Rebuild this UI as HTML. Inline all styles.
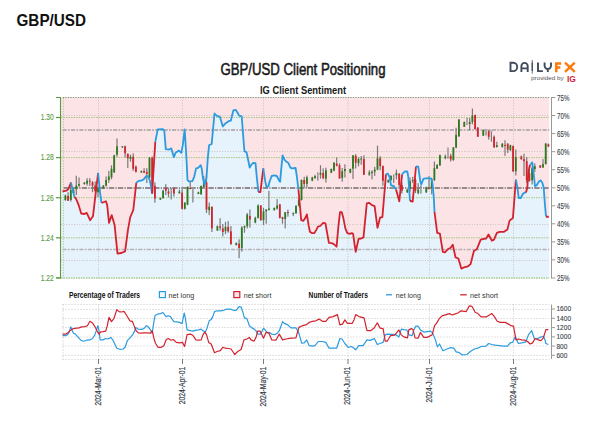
<!DOCTYPE html><html><head><meta charset="utf-8"><style>html,body{margin:0;padding:0;background:#fff;width:602px;height:426px;overflow:hidden}svg{display:block}text{font-family:"Liberation Sans",sans-serif}</style></head><body>
<svg width="602" height="426" viewBox="0 0 602 426">
<text x="16.5" y="26" font-size="16.6" font-weight="bold" fill="#111" textLength="69.5" lengthAdjust="spacingAndGlyphs">GBP/USD</text>
<text x="220.5" y="74.6" font-size="16" fill="#1a1a1a" stroke="#1a1a1a" stroke-width="0.55" textLength="165" lengthAdjust="spacingAndGlyphs">GBP/USD Client Positioning</text>
<text x="260" y="93.5" font-size="10.5" font-weight="bold" fill="#1a1a1a" textLength="86" lengthAdjust="spacingAndGlyphs">IG Client Sentiment</text>
<rect x="61" y="97.5" width="488.20000000000005" height="181.0" fill="#fce4e6"/>
<polygon points="61,191.3 62.5,191.3 66.5,190.7 68.4,189.1 71,182.6 72.9,191 74.5,197 76.1,198.8 78.7,205.2 81.2,213.5 84.5,214 86.7,212.9 90.1,220.2 93,216.2 98.1,172.9 100,192.3 101.5,203 103.9,202 105.9,201.3 107.2,205.2 109,222.9 111.7,215.1 114.6,225.1 117.5,253.6 121.3,253 125.1,251.4 128,229.6 130.2,217.3 133.3,210 136.3,182.7 138.6,180.9 141.1,180.7 143.7,179.4 146.3,176.1 148,176.1 149.5,179.4 150.8,185.2 152.1,193.6 155.3,141.9 157.7,129.4 162.8,129.1 164.3,131 165.8,149.1 169.1,149.5 171.3,148.4 173.9,157.2 175.6,152.8 178.9,150.6 181.3,152.9 182.8,145.2 184.7,129.4 186.5,159.4 187.5,180 188.8,181.3 192.3,181.1 194.2,176.8 196.1,168.4 198.1,167.8 200.7,165.2 201.7,168.4 203,178.8 204.5,184.6 206.5,177.5 207.8,158.1 209.1,145.2 211.7,143.9 214.5,113.5 216.6,115.7 219.9,116.8 222.8,126.5 225.4,123.4 228.6,121.2 230.8,120.7 233.4,110.3 235.6,109.8 237.4,112.5 239.1,115.7 241.7,116.4 243.9,145 244.5,151.5 246.5,152.1 248,159.2 249.7,167.6 251.6,164.4 253.6,162.8 255.5,163.1 256.8,177.3 258.4,192 260.4,192.2 263.3,168.3 265.2,181.2 266.5,187 268.4,186.3 269.7,181.2 271.7,176 274.2,175.4 276.8,176 278.8,179.9 280.1,181.8 281.3,168.3 282.6,155.3 284.6,159.9 286.5,161.8 288.4,163.1 290.4,167.6 291.7,168.3 295.6,168 296.8,176 298.4,189.5 299.9,205.3 301.2,220.2 303.4,220.8 305.1,218.3 306.9,214.4 308.6,225.4 309.9,231.8 311.8,233.1 314.4,233.1 316.3,229.9 318,226.7 320.2,226 323.2,222.8 325.4,223.4 327.3,233.8 328.9,242.8 331.4,243.2 333.5,243.8 336.6,246.7 338.3,227.3 340,212.1 341.8,212.2 343.4,218.3 345.4,228.6 347.3,233.1 349.9,233.8 351.8,233.1 353.1,233.8 354.7,245.4 355.7,251.8 358.6,238.9 361.2,238.5 363.5,237.4 366.8,203.3 369,202.8 371.9,205.1 374.6,206.2 377.5,227.8 380.2,217.3 382.4,217.3 386,174.2 387.9,173.7 389.5,177 391.1,185.4 393.7,186 396,189.5 399.3,201.3 402.1,174.4 404.7,171.5 407.3,171.5 408.3,177 410,201 412.7,201.5 416,166.5 418.3,166.6 420.2,180.8 421.3,184.5 423.4,178.9 425.4,178.3 431.2,178.3 432.5,183.4 433.8,197.6 434.5,212 437.2,232.9 439.9,233.6 442.8,251.8 445,252.3 447.9,249.2 450.6,247.8 452.8,244.7 455.5,257.4 458.4,258.5 461.3,268.6 464,267.4 468,266.3 470.6,264.1 474,250.7 476.9,249.2 480.7,239.6 484,238.9 486.2,238.5 488.5,234.5 491.8,240.7 494,239.6 496.9,232.9 499.6,231.8 504.1,231.8 507.4,229.6 509.6,220.6 511.3,219.3 512.9,218.1 515.9,179.6 517.5,187.8 518.7,198 520.8,198 522.8,194 524.4,192.7 526,192.4 527.3,187.8 528.5,171.4 530,165 532.3,162.4 533.4,171.4 535,186.1 536.7,185.3 539.1,181.2 540.8,180.4 542.4,182.9 543.7,187.8 544.9,204.2 546,216.5 548.7,217 549.2,217 549.2,278.5 61,278.5" fill="#e6f3fc"/>
<line x1="61" x2="549.2" y1="115.5" y2="115.5" stroke="#cac2c2" stroke-width="1" stroke-dasharray="1,1.6"/>
<line x1="61" x2="549.2" y1="151.5" y2="151.5" stroke="#cac2c2" stroke-width="1" stroke-dasharray="1,1.6"/>
<line x1="61" x2="549.2" y1="224.5" y2="224.5" stroke="#cac2c2" stroke-width="1" stroke-dasharray="1,1.6"/>
<line x1="61" x2="549.2" y1="260.5" y2="260.5" stroke="#cac2c2" stroke-width="1" stroke-dasharray="1,1.6"/>
<line x1="61" x2="549.2" y1="117.5" y2="117.5" stroke="#a8c782" stroke-width="1" stroke-dasharray="1.5,1"/>
<line x1="61" x2="549.2" y1="157.6" y2="157.6" stroke="#a8c782" stroke-width="1" stroke-dasharray="1.5,1"/>
<line x1="61" x2="549.2" y1="197.7" y2="197.7" stroke="#a8c782" stroke-width="1" stroke-dasharray="1.5,1"/>
<line x1="61" x2="549.2" y1="237.8" y2="237.8" stroke="#a8c782" stroke-width="1" stroke-dasharray="1.5,1"/>
<line x1="61" x2="549.2" y1="278" y2="278" stroke="#8cbc5c" stroke-width="1" stroke-dasharray="1.5,1"/>
<line x1="62.58" x2="549.2" y1="130" y2="130" stroke="#b8b0b2" stroke-width="1.8" stroke-dasharray="4.1,1.3,1.7,1.32"/>
<line x1="62.58" x2="549.2" y1="249.5" y2="249.5" stroke="#b8b0b2" stroke-width="1.6" stroke-dasharray="4.1,1.3,1.7,1.32"/>
<line x1="63.6" x2="549.2" y1="188" y2="188" stroke="#958b8d" stroke-width="2" stroke-dasharray="5.4,1.25,1.2,1.2"/>
<line x1="98.5" x2="98.5" y1="97.5" y2="278.5" stroke="#cac2c2" stroke-width="1" stroke-dasharray="1,1.6"/>
<line x1="182.5" x2="182.5" y1="97.5" y2="278.5" stroke="#cac2c2" stroke-width="1" stroke-dasharray="1,1.6"/>
<line x1="263.5" x2="263.5" y1="97.5" y2="278.5" stroke="#cac2c2" stroke-width="1" stroke-dasharray="1,1.6"/>
<line x1="348" x2="348" y1="97.5" y2="278.5" stroke="#cac2c2" stroke-width="1" stroke-dasharray="1,1.6"/>
<line x1="429.5" x2="429.5" y1="97.5" y2="278.5" stroke="#cac2c2" stroke-width="1" stroke-dasharray="1,1.6"/>
<line x1="513.5" x2="513.5" y1="97.5" y2="278.5" stroke="#cac2c2" stroke-width="1" stroke-dasharray="1,1.6"/>
<line x1="62.7" x2="549.2" y1="97.5" y2="97.5" stroke="#889c78" stroke-width="1" stroke-dasharray="1.5,1"/>
<line x1="63.3" x2="63.3" y1="98" y2="278.5" stroke="#b4beaa" stroke-width="1" stroke-dasharray="1.3,1.3"/>
<rect x="64.8" y="194.6" width="1.2" height="6.2" fill="#7c7878"/>
<rect x="64.5" y="195.5" width="1.8" height="4.5" fill="#2d7a1e"/>
<rect x="67.5" y="192.2" width="1.2" height="8.6" fill="#7c7878"/>
<rect x="67.2" y="195.9" width="1.8" height="4.9" fill="#d3232d"/>
<rect x="70.2" y="182.3" width="1.2" height="19.3" fill="#7c7878"/>
<rect x="69.9" y="190" width="1.8" height="10" fill="#2d7a1e"/>
<rect x="72.9" y="188.5" width="1.2" height="5.5" fill="#7c7878"/>
<rect x="72.6" y="190.1" width="1.8" height="2.9" fill="#2d7a1e"/>
<rect x="75.7" y="175.7" width="1.2" height="19.3" fill="#7c7878"/>
<rect x="75.4" y="185.6" width="1.8" height="3.7" fill="#2d7a1e"/>
<rect x="78.4" y="177.4" width="1.2" height="9.8" fill="#7c7878"/>
<rect x="78.1" y="184" width="1.8" height="1.6" fill="#2d7a1e"/>
<rect x="83.8" y="182" width="1.2" height="2.7" fill="#7c7878"/>
<rect x="83.5" y="182.7" width="1.8" height="1.3" fill="#2d7a1e"/>
<rect x="86.5" y="178.2" width="1.2" height="7.4" fill="#7c7878"/>
<rect x="86.2" y="180.7" width="1.8" height="2.9" fill="#2d7a1e"/>
<rect x="89.2" y="178.2" width="1.2" height="7.8" fill="#7c7878"/>
<rect x="88.9" y="180.7" width="1.8" height="1" fill="#d3232d"/>
<rect x="91.9" y="181.1" width="1.2" height="11.1" fill="#7c7878"/>
<rect x="91.6" y="182.3" width="1.8" height="3.3" fill="#d3232d"/>
<rect x="94.6" y="181.5" width="1.2" height="9.9" fill="#7c7878"/>
<rect x="94.3" y="185.6" width="1.8" height="5.8" fill="#d3232d"/>
<rect x="97.4" y="186.4" width="1.2" height="10.7" fill="#7c7878"/>
<rect x="97.1" y="187.7" width="1.8" height="4.5" fill="#2d7a1e"/>
<rect x="102.8" y="185" width="1.2" height="4" fill="#7c7878"/>
<rect x="102.5" y="185.7" width="1.8" height="2.8" fill="#2d7a1e"/>
<rect x="105.5" y="176.5" width="1.2" height="9.9" fill="#7c7878"/>
<rect x="105.2" y="180" width="1.8" height="5.7" fill="#2d7a1e"/>
<rect x="108.2" y="170.9" width="1.2" height="12" fill="#7c7878"/>
<rect x="107.9" y="176.5" width="1.8" height="3.5" fill="#2d7a1e"/>
<rect x="110.9" y="165.3" width="1.2" height="14.1" fill="#7c7878"/>
<rect x="110.6" y="168.8" width="1.8" height="8.5" fill="#2d7a1e"/>
<rect x="113.6" y="154.7" width="1.2" height="18.3" fill="#7c7878"/>
<rect x="113.3" y="155.4" width="1.8" height="16.9" fill="#2d7a1e"/>
<rect x="116.4" y="138.5" width="1.2" height="18.3" fill="#7c7878"/>
<rect x="116.1" y="146.3" width="1.8" height="8.4" fill="#2d7a1e"/>
<rect x="121.8" y="146" width="1.2" height="1.8" fill="#7c7878"/>
<rect x="121.5" y="146.3" width="1.8" height="1.1" fill="#2d7a1e"/>
<rect x="124.5" y="145.6" width="1.2" height="11.9" fill="#7c7878"/>
<rect x="124.2" y="146.3" width="1.8" height="7" fill="#d3232d"/>
<rect x="127.2" y="153.3" width="1.2" height="14.8" fill="#7c7878"/>
<rect x="126.9" y="154" width="1.8" height="4.2" fill="#d3232d"/>
<rect x="129.9" y="154.7" width="1.2" height="7.1" fill="#7c7878"/>
<rect x="129.6" y="156.8" width="1.8" height="2.2" fill="#2d7a1e"/>
<rect x="132.6" y="153.3" width="1.2" height="17.6" fill="#7c7878"/>
<rect x="132.3" y="156.8" width="1.8" height="12" fill="#d3232d"/>
<rect x="135.3" y="165.5" width="1.2" height="7" fill="#7c7878"/>
<rect x="135" y="166.7" width="1.8" height="5.2" fill="#d3232d"/>
<rect x="140.8" y="170.5" width="1.2" height="2.5" fill="#7c7878"/>
<rect x="140.5" y="171.1" width="1.8" height="1.4" fill="#2d7a1e"/>
<rect x="143.5" y="168.2" width="1.2" height="5.1" fill="#7c7878"/>
<rect x="143.2" y="171" width="1.8" height="1.5" fill="#d3232d"/>
<rect x="146.2" y="168.2" width="1.2" height="14.8" fill="#7c7878"/>
<rect x="145.9" y="171.8" width="1.8" height="2.1" fill="#d3232d"/>
<rect x="148.9" y="157" width="1.2" height="21" fill="#7c7878"/>
<rect x="148.6" y="157.7" width="1.8" height="19.7" fill="#2d7a1e"/>
<rect x="151.6" y="156.5" width="1.2" height="37.1" fill="#7c7878"/>
<rect x="151.3" y="157.7" width="1.8" height="35.2" fill="#d3232d"/>
<rect x="154.3" y="182.3" width="1.2" height="20.4" fill="#7c7878"/>
<rect x="154" y="185.8" width="1.8" height="12.7" fill="#d3232d"/>
<rect x="159.8" y="197.5" width="1.2" height="2.5" fill="#7c7878"/>
<rect x="159.5" y="198.2" width="1.8" height="1.4" fill="#2d7a1e"/>
<rect x="162.5" y="189.7" width="1.2" height="9.1" fill="#7c7878"/>
<rect x="162.2" y="190.7" width="1.8" height="7.3" fill="#2d7a1e"/>
<rect x="165.2" y="184.2" width="1.2" height="10.9" fill="#7c7878"/>
<rect x="164.9" y="187.8" width="1.8" height="2.9" fill="#d3232d"/>
<rect x="167.9" y="188.5" width="1.2" height="8.8" fill="#7c7878"/>
<rect x="167.6" y="191.5" width="1.8" height="2.1" fill="#d3232d"/>
<rect x="170.6" y="187.8" width="1.2" height="11.7" fill="#7c7878"/>
<rect x="170.3" y="190" width="1.8" height="1" fill="#b3acac"/>
<rect x="173.3" y="187.1" width="1.2" height="9.4" fill="#7c7878"/>
<rect x="173" y="188.5" width="1.8" height="5.1" fill="#d3232d"/>
<rect x="178.8" y="189.7" width="1.2" height="3.9" fill="#7c7878"/>
<rect x="178.5" y="191.6" width="1.8" height="1.7" fill="#2d7a1e"/>
<rect x="181.5" y="189.1" width="1.2" height="20.4" fill="#7c7878"/>
<rect x="181.2" y="192.6" width="1.8" height="16.2" fill="#d3232d"/>
<rect x="184.2" y="202.5" width="1.2" height="7" fill="#7c7878"/>
<rect x="183.9" y="202.5" width="1.8" height="6.3" fill="#2d7a1e"/>
<rect x="186.9" y="186.3" width="1.2" height="19" fill="#7c7878"/>
<rect x="186.6" y="187" width="1.8" height="17.6" fill="#2d7a1e"/>
<rect x="189.6" y="182" width="1.2" height="7.1" fill="#7c7878"/>
<rect x="189.3" y="188" width="1.8" height="1.1" fill="#d3232d"/>
<rect x="192.3" y="188.4" width="1.2" height="14.1" fill="#7c7878"/>
<rect x="192" y="188.4" width="1.8" height="1" fill="#b3acac"/>
<rect x="197.8" y="191.6" width="1.2" height="2.6" fill="#7c7878"/>
<rect x="197.5" y="192.3" width="1.8" height="1.7" fill="#2d7a1e"/>
<rect x="200.5" y="185.5" width="1.2" height="9.1" fill="#7c7878"/>
<rect x="200.2" y="186" width="1.8" height="8.4" fill="#2d7a1e"/>
<rect x="203.2" y="176.1" width="1.2" height="11.6" fill="#7c7878"/>
<rect x="202.9" y="182.1" width="1.8" height="4.9" fill="#2d7a1e"/>
<rect x="205.9" y="175" width="1.2" height="38" fill="#7c7878"/>
<rect x="205.6" y="182.4" width="1.8" height="27.1" fill="#d3232d"/>
<rect x="208.6" y="202.5" width="1.2" height="12.6" fill="#7c7878"/>
<rect x="208.3" y="206.7" width="1.8" height="3.5" fill="#2d7a1e"/>
<rect x="211.3" y="206.7" width="1.2" height="25.3" fill="#7c7878"/>
<rect x="211" y="206.7" width="1.8" height="21.7" fill="#d3232d"/>
<rect x="216.8" y="225.5" width="1.2" height="5.5" fill="#7c7878"/>
<rect x="216.5" y="226.2" width="1.8" height="4.3" fill="#2d7a1e"/>
<rect x="219.5" y="218.2" width="1.2" height="12.3" fill="#7c7878"/>
<rect x="219.2" y="226.2" width="1.8" height="1.4" fill="#d3232d"/>
<rect x="222.2" y="224" width="1.2" height="12.4" fill="#7c7878"/>
<rect x="221.9" y="228.4" width="1.8" height="3.6" fill="#d3232d"/>
<rect x="224.9" y="221.8" width="1.2" height="12.4" fill="#7c7878"/>
<rect x="224.6" y="226.9" width="1.8" height="4.4" fill="#2d7a1e"/>
<rect x="227.6" y="221.1" width="1.2" height="11.6" fill="#7c7878"/>
<rect x="227.3" y="226.9" width="1.8" height="4.4" fill="#d3232d"/>
<rect x="230.3" y="226" width="1.2" height="18.4" fill="#7c7878"/>
<rect x="230" y="231.3" width="1.8" height="13.1" fill="#d3232d"/>
<rect x="235.7" y="242.5" width="1.2" height="3" fill="#7c7878"/>
<rect x="235.4" y="242.9" width="1.8" height="2.2" fill="#2d7a1e"/>
<rect x="238.5" y="239.3" width="1.2" height="18.9" fill="#7c7878"/>
<rect x="238.2" y="243.6" width="1.8" height="4.4" fill="#d3232d"/>
<rect x="241.2" y="226.2" width="1.2" height="25.4" fill="#7c7878"/>
<rect x="240.9" y="227.6" width="1.8" height="20.4" fill="#2d7a1e"/>
<rect x="243.9" y="225.5" width="1.2" height="7.2" fill="#7c7878"/>
<rect x="243.6" y="226.2" width="1.8" height="1.4" fill="#2d7a1e"/>
<rect x="246.6" y="213" width="1.2" height="15.4" fill="#7c7878"/>
<rect x="246.3" y="214.5" width="1.8" height="11.7" fill="#2d7a1e"/>
<rect x="249.3" y="209.5" width="1.2" height="18.1" fill="#7c7878"/>
<rect x="249" y="216" width="1.8" height="3.6" fill="#d3232d"/>
<rect x="254.7" y="216.7" width="1.2" height="6.5" fill="#7c7878"/>
<rect x="254.4" y="217.9" width="1.8" height="4.7" fill="#2d7a1e"/>
<rect x="257.5" y="204.4" width="1.2" height="14.1" fill="#7c7878"/>
<rect x="257.2" y="205.5" width="1.8" height="12.4" fill="#2d7a1e"/>
<rect x="260.2" y="205" width="1.2" height="15.8" fill="#7c7878"/>
<rect x="259.9" y="205.5" width="1.8" height="14.7" fill="#d3232d"/>
<rect x="262.9" y="207.9" width="1.2" height="17" fill="#7c7878"/>
<rect x="262.6" y="211.4" width="1.8" height="8.8" fill="#2d7a1e"/>
<rect x="265.6" y="209.1" width="1.2" height="14.6" fill="#7c7878"/>
<rect x="265.3" y="209.6" width="1.8" height="1.8" fill="#2d7a1e"/>
<rect x="268.3" y="190.9" width="1.2" height="19.3" fill="#7c7878"/>
<rect x="268" y="208.5" width="1.8" height="1.7" fill="#2d7a1e"/>
<rect x="273.7" y="207.5" width="1.2" height="3" fill="#7c7878"/>
<rect x="273.4" y="207.9" width="1.8" height="2.3" fill="#2d7a1e"/>
<rect x="276.5" y="199.1" width="1.2" height="10.5" fill="#7c7878"/>
<rect x="276.2" y="205.5" width="1.8" height="3" fill="#2d7a1e"/>
<rect x="279.2" y="203.8" width="1.2" height="14.7" fill="#7c7878"/>
<rect x="278.9" y="204.4" width="1.8" height="13.5" fill="#d3232d"/>
<rect x="281.9" y="216.7" width="1.2" height="7" fill="#7c7878"/>
<rect x="281.6" y="217.3" width="1.8" height="1.7" fill="#d3232d"/>
<rect x="284.6" y="212" width="1.2" height="16.4" fill="#7c7878"/>
<rect x="284.3" y="212.2" width="1.8" height="6.8" fill="#2d7a1e"/>
<rect x="287.3" y="209.6" width="1.2" height="7.1" fill="#7c7878"/>
<rect x="287" y="212" width="1.8" height="1.2" fill="#d3232d"/>
<rect x="292.7" y="212.6" width="1.2" height="3.5" fill="#7c7878"/>
<rect x="292.4" y="212.9" width="1.8" height="1.2" fill="#2d7a1e"/>
<rect x="295.4" y="205" width="1.2" height="8.8" fill="#7c7878"/>
<rect x="295.1" y="206.1" width="1.8" height="7.1" fill="#2d7a1e"/>
<rect x="298.2" y="198" width="1.2" height="8.5" fill="#7c7878"/>
<rect x="297.9" y="200" width="1.8" height="5.8" fill="#2d7a1e"/>
<rect x="300.9" y="179.4" width="1.2" height="21.2" fill="#7c7878"/>
<rect x="300.6" y="180" width="1.8" height="20" fill="#2d7a1e"/>
<rect x="303.6" y="176.8" width="1.2" height="10.9" fill="#7c7878"/>
<rect x="303.3" y="180" width="1.8" height="3.9" fill="#d3232d"/>
<rect x="306.3" y="175.5" width="1.2" height="12.2" fill="#7c7878"/>
<rect x="306" y="177.4" width="1.8" height="6.5" fill="#2d7a1e"/>
<rect x="311.7" y="176.8" width="1.2" height="4.5" fill="#7c7878"/>
<rect x="311.4" y="177.4" width="1.8" height="3.2" fill="#2d7a1e"/>
<rect x="314.4" y="174.8" width="1.2" height="3.9" fill="#7c7878"/>
<rect x="314.1" y="176.1" width="1.8" height="2" fill="#2d7a1e"/>
<rect x="317.2" y="172.3" width="1.2" height="8.3" fill="#7c7878"/>
<rect x="316.9" y="175" width="1.8" height="1" fill="#b3acac"/>
<rect x="319.9" y="165.2" width="1.2" height="13.5" fill="#7c7878"/>
<rect x="319.6" y="172.9" width="1.8" height="1.9" fill="#2d7a1e"/>
<rect x="322.6" y="168.4" width="1.2" height="11" fill="#7c7878"/>
<rect x="322.3" y="172.9" width="1.8" height="5.2" fill="#d3232d"/>
<rect x="325.3" y="167.7" width="1.2" height="14.9" fill="#7c7878"/>
<rect x="325" y="170.3" width="1.8" height="8.4" fill="#2d7a1e"/>
<rect x="330.7" y="168.5" width="1.2" height="4.7" fill="#7c7878"/>
<rect x="330.4" y="169" width="1.8" height="3.7" fill="#2d7a1e"/>
<rect x="333.4" y="162.2" width="1.2" height="9" fill="#7c7878"/>
<rect x="333.1" y="162.7" width="1.8" height="7.9" fill="#2d7a1e"/>
<rect x="336.1" y="157.4" width="1.2" height="9" fill="#7c7878"/>
<rect x="335.8" y="163.7" width="1.8" height="2.2" fill="#d3232d"/>
<rect x="338.9" y="163.2" width="1.2" height="15.3" fill="#7c7878"/>
<rect x="338.6" y="165.3" width="1.8" height="13.2" fill="#d3232d"/>
<rect x="341.6" y="168" width="1.2" height="13.7" fill="#7c7878"/>
<rect x="341.3" y="171.1" width="1.8" height="6.9" fill="#2d7a1e"/>
<rect x="344.3" y="164.3" width="1.2" height="13.2" fill="#7c7878"/>
<rect x="344" y="169" width="1.8" height="2.1" fill="#2d7a1e"/>
<rect x="349.7" y="168.5" width="1.2" height="4.7" fill="#7c7878"/>
<rect x="349.4" y="169" width="1.8" height="3.7" fill="#2d7a1e"/>
<rect x="352.4" y="155.3" width="1.2" height="23.6" fill="#7c7878"/>
<rect x="352.1" y="155.3" width="1.8" height="13.4" fill="#2d7a1e"/>
<rect x="355.1" y="154.2" width="1.2" height="14.3" fill="#7c7878"/>
<rect x="354.8" y="155.8" width="1.8" height="6.9" fill="#d3232d"/>
<rect x="357.9" y="157.4" width="1.2" height="9" fill="#7c7878"/>
<rect x="357.6" y="159" width="1.8" height="4.2" fill="#2d7a1e"/>
<rect x="360.6" y="156" width="1.2" height="8.8" fill="#7c7878"/>
<rect x="360.3" y="158.5" width="1.8" height="1" fill="#2d7a1e"/>
<rect x="363.3" y="155.3" width="1.2" height="19.5" fill="#7c7878"/>
<rect x="363" y="159" width="1.8" height="15.8" fill="#d3232d"/>
<rect x="368.7" y="170.3" width="1.2" height="5.6" fill="#7c7878"/>
<rect x="368.4" y="172.4" width="1.8" height="2.1" fill="#2d7a1e"/>
<rect x="371.4" y="170.3" width="1.2" height="9.1" fill="#7c7878"/>
<rect x="371.1" y="171.7" width="1.8" height="1.4" fill="#2d7a1e"/>
<rect x="374.1" y="166.8" width="1.2" height="9.1" fill="#7c7878"/>
<rect x="373.8" y="169.6" width="1.8" height="2.1" fill="#2d7a1e"/>
<rect x="376.9" y="145.6" width="1.2" height="24.7" fill="#7c7878"/>
<rect x="376.6" y="158.3" width="1.8" height="11.3" fill="#2d7a1e"/>
<rect x="379.6" y="156.2" width="1.2" height="14.1" fill="#7c7878"/>
<rect x="379.3" y="158.3" width="1.8" height="7.8" fill="#d3232d"/>
<rect x="382.3" y="165.4" width="1.2" height="20.4" fill="#7c7878"/>
<rect x="382" y="166.1" width="1.8" height="14.7" fill="#d3232d"/>
<rect x="387.7" y="179.5" width="1.2" height="3.3" fill="#7c7878"/>
<rect x="387.4" y="180.1" width="1.8" height="2.2" fill="#2d7a1e"/>
<rect x="390.4" y="175.2" width="1.2" height="5.6" fill="#7c7878"/>
<rect x="390.1" y="175.9" width="1.8" height="4.2" fill="#2d7a1e"/>
<rect x="393.1" y="174.5" width="1.2" height="8.5" fill="#7c7878"/>
<rect x="392.8" y="177" width="1.8" height="1" fill="#b3acac"/>
<rect x="395.8" y="169.6" width="1.2" height="9.8" fill="#7c7878"/>
<rect x="395.5" y="173.1" width="1.8" height="2.1" fill="#2d7a1e"/>
<rect x="398.6" y="173" width="1.2" height="14.4" fill="#7c7878"/>
<rect x="398.3" y="173.8" width="1.8" height="11.3" fill="#d3232d"/>
<rect x="401.3" y="182.3" width="1.2" height="11.2" fill="#7c7878"/>
<rect x="401" y="185.1" width="1.8" height="5.6" fill="#d3232d"/>
<rect x="406.7" y="188.8" width="1.2" height="4.2" fill="#7c7878"/>
<rect x="406.4" y="189.5" width="1.8" height="2.8" fill="#2d7a1e"/>
<rect x="409.4" y="177.5" width="1.2" height="14.1" fill="#7c7878"/>
<rect x="409.1" y="181.1" width="1.8" height="7.7" fill="#2d7a1e"/>
<rect x="412.1" y="176.8" width="1.2" height="6.4" fill="#7c7878"/>
<rect x="411.8" y="180" width="1.8" height="1" fill="#2d7a1e"/>
<rect x="414.8" y="178.2" width="1.2" height="14.8" fill="#7c7878"/>
<rect x="414.5" y="179.6" width="1.8" height="11.3" fill="#d3232d"/>
<rect x="417.6" y="183.2" width="1.2" height="11.2" fill="#7c7878"/>
<rect x="417.3" y="189.5" width="1.8" height="3.5" fill="#2d7a1e"/>
<rect x="420.3" y="185.3" width="1.2" height="8.4" fill="#7c7878"/>
<rect x="420" y="188" width="1.8" height="1" fill="#b3acac"/>
<rect x="425.7" y="186.7" width="1.2" height="6.3" fill="#7c7878"/>
<rect x="425.4" y="187.4" width="1.8" height="4.9" fill="#2d7a1e"/>
<rect x="428.4" y="176.1" width="1.2" height="13.4" fill="#7c7878"/>
<rect x="428.1" y="187.7" width="1.8" height="1" fill="#d3232d"/>
<rect x="431.1" y="178.2" width="1.2" height="16.2" fill="#7c7878"/>
<rect x="430.8" y="179.6" width="1.8" height="8.5" fill="#2d7a1e"/>
<rect x="433.8" y="161.5" width="1.2" height="19.6" fill="#7c7878"/>
<rect x="433.5" y="168.2" width="1.8" height="11.8" fill="#2d7a1e"/>
<rect x="436.5" y="164" width="1.2" height="5" fill="#7c7878"/>
<rect x="436.2" y="165.1" width="1.8" height="3.5" fill="#2d7a1e"/>
<rect x="439.3" y="154.5" width="1.2" height="11.5" fill="#7c7878"/>
<rect x="439" y="155.2" width="1.8" height="10.1" fill="#2d7a1e"/>
<rect x="444.7" y="154.5" width="1.2" height="4.9" fill="#7c7878"/>
<rect x="444.4" y="156.6" width="1.8" height="1.4" fill="#2d7a1e"/>
<rect x="447.4" y="147.5" width="1.2" height="11.2" fill="#7c7878"/>
<rect x="447.1" y="148.2" width="1.8" height="7.7" fill="#b3acac"/>
<rect x="450.1" y="153.8" width="1.2" height="7.7" fill="#7c7878"/>
<rect x="449.8" y="155.9" width="1.8" height="3.5" fill="#d3232d"/>
<rect x="452.8" y="147" width="1.2" height="13.8" fill="#7c7878"/>
<rect x="452.5" y="147.5" width="1.8" height="12.6" fill="#2d7a1e"/>
<rect x="455.5" y="127.7" width="1.2" height="20.5" fill="#7c7878"/>
<rect x="455.2" y="134.8" width="1.8" height="12.7" fill="#2d7a1e"/>
<rect x="458.3" y="119" width="1.2" height="18" fill="#7c7878"/>
<rect x="458" y="119.5" width="1.8" height="16.7" fill="#2d7a1e"/>
<rect x="463.7" y="121.6" width="1.2" height="5.4" fill="#7c7878"/>
<rect x="463.4" y="122" width="1.8" height="4.8" fill="#2d7a1e"/>
<rect x="466.4" y="117.9" width="1.2" height="7" fill="#7c7878"/>
<rect x="466.1" y="118.5" width="1.8" height="6" fill="#b3acac"/>
<rect x="469.1" y="118" width="1.2" height="12" fill="#7c7878"/>
<rect x="468.8" y="122" width="1.8" height="2" fill="#2d7a1e"/>
<rect x="471.8" y="108.5" width="1.2" height="15.9" fill="#7c7878"/>
<rect x="471.5" y="115.5" width="1.8" height="6.5" fill="#2d7a1e"/>
<rect x="474.5" y="114.5" width="1.2" height="15" fill="#7c7878"/>
<rect x="474.2" y="115" width="1.8" height="14" fill="#d3232d"/>
<rect x="477.2" y="127" width="1.2" height="10" fill="#7c7878"/>
<rect x="476.9" y="127.7" width="1.8" height="9" fill="#d3232d"/>
<rect x="482.7" y="129.5" width="1.2" height="6.5" fill="#7c7878"/>
<rect x="482.4" y="130" width="1.8" height="5.7" fill="#2d7a1e"/>
<rect x="485.4" y="129.6" width="1.2" height="5.8" fill="#7c7878"/>
<rect x="485.1" y="129.7" width="1.8" height="1.3" fill="#b3acac"/>
<rect x="488.1" y="129.7" width="1.2" height="9.9" fill="#7c7878"/>
<rect x="487.8" y="131.2" width="1.8" height="5.6" fill="#d3232d"/>
<rect x="490.8" y="130.5" width="1.2" height="11.2" fill="#7c7878"/>
<rect x="490.5" y="131" width="1.8" height="1" fill="#b3acac"/>
<rect x="493.5" y="135.5" width="1.2" height="12.3" fill="#7c7878"/>
<rect x="493.2" y="136.8" width="1.8" height="10.6" fill="#d3232d"/>
<rect x="496.2" y="141.7" width="1.2" height="5.7" fill="#7c7878"/>
<rect x="495.9" y="145.2" width="1.8" height="1.9" fill="#2d7a1e"/>
<rect x="501.7" y="143" width="1.2" height="4.5" fill="#7c7878"/>
<rect x="501.4" y="143.8" width="1.8" height="3.3" fill="#2d7a1e"/>
<rect x="504.4" y="140.3" width="1.2" height="15.5" fill="#7c7878"/>
<rect x="504.1" y="145" width="1.8" height="1" fill="#d3232d"/>
<rect x="507.1" y="143.1" width="1.2" height="9.9" fill="#7c7878"/>
<rect x="506.8" y="143.8" width="1.8" height="5.7" fill="#d3232d"/>
<rect x="509.8" y="144.7" width="1.2" height="6.3" fill="#7c7878"/>
<rect x="509.5" y="145.2" width="1.8" height="5" fill="#2d7a1e"/>
<rect x="512.5" y="145.5" width="1.2" height="26.5" fill="#7c7878"/>
<rect x="512.2" y="146" width="1.8" height="25.3" fill="#d3232d"/>
<rect x="515.2" y="149.5" width="1.2" height="26" fill="#7c7878"/>
<rect x="514.9" y="157.2" width="1.8" height="14.1" fill="#2d7a1e"/>
<rect x="520.7" y="155.5" width="1.2" height="4.3" fill="#7c7878"/>
<rect x="520.4" y="156.5" width="1.8" height="2.7" fill="#d3232d"/>
<rect x="523.4" y="153.7" width="1.2" height="22.3" fill="#7c7878"/>
<rect x="523.1" y="159.1" width="1.8" height="2.1" fill="#d3232d"/>
<rect x="526.1" y="157" width="1.2" height="26.1" fill="#7c7878"/>
<rect x="525.8" y="161.2" width="1.8" height="19.1" fill="#d3232d"/>
<rect x="528.8" y="166.2" width="1.2" height="15.5" fill="#7c7878"/>
<rect x="528.5" y="173.2" width="1.8" height="7.8" fill="#d3232d"/>
<rect x="531.5" y="166.2" width="1.2" height="18.3" fill="#7c7878"/>
<rect x="531.2" y="168.3" width="1.8" height="12" fill="#2d7a1e"/>
<rect x="534.2" y="163.4" width="1.2" height="8.4" fill="#7c7878"/>
<rect x="533.9" y="166.2" width="1.8" height="2.8" fill="#2d7a1e"/>
<rect x="539.7" y="165" width="1.2" height="3" fill="#7c7878"/>
<rect x="539.4" y="165.5" width="1.8" height="2.1" fill="#d3232d"/>
<rect x="542.4" y="159.1" width="1.2" height="8.5" fill="#7c7878"/>
<rect x="542.1" y="164.1" width="1.8" height="3.5" fill="#2d7a1e"/>
<rect x="545.1" y="143" width="1.2" height="21.5" fill="#7c7878"/>
<rect x="544.8" y="143.6" width="1.8" height="20.5" fill="#2d7a1e"/>
<rect x="547.8" y="143.5" width="1.2" height="3.5" fill="#7c7878"/>
<rect x="547.5" y="144.3" width="1.8" height="2.2" fill="#d3232d"/>
<polyline points="62.5,191.3 66.5,190.7 68.4,189.1 71,182.6" fill="none" stroke="#d3222f" stroke-width="1.8" stroke-linejoin="round"/>
<polyline points="71,182.6 72.9,191 74.5,197" fill="none" stroke="#2b9be0" stroke-width="1.8" stroke-linejoin="round"/>
<polyline points="74.5,197 76.1,198.8 78.7,205.2 81.2,213.5 84.5,214 86.7,212.9 90.1,220.2 93,216.2 98.1,172.9" fill="none" stroke="#d3222f" stroke-width="1.8" stroke-linejoin="round"/>
<polyline points="98.1,172.9 100,192.3 101.5,203" fill="none" stroke="#2b9be0" stroke-width="1.8" stroke-linejoin="round"/>
<polyline points="101.5,203 103.9,202 105.9,201.3 107.2,205.2 109,222.9 111.7,215.1 114.6,225.1 117.5,253.6 121.3,253 125.1,251.4 128,229.6 130.2,217.3 133.3,210 136.3,182.7" fill="none" stroke="#d3222f" stroke-width="1.8" stroke-linejoin="round"/>
<polyline points="136.3,182.7 138.6,180.9 141.1,180.7 143.7,179.4 146.3,176.1 148,176.1 149.5,179.4 150.8,185.2 152.1,193.6" fill="none" stroke="#2b9be0" stroke-width="1.8" stroke-linejoin="round"/>
<polyline points="152.1,193.6 155.3,141.9" fill="none" stroke="#d3222f" stroke-width="1.8" stroke-linejoin="round"/>
<polyline points="155.3,141.9 157.7,129.4 162.8,129.1 164.3,131 165.8,149.1 169.1,149.5 171.3,148.4 173.9,157.2 175.6,152.8 178.9,150.6 181.3,152.9 182.8,145.2 184.7,129.4 186.5,159.4 187.5,180 188.8,181.3 192.3,181.1 194.2,176.8 196.1,168.4 198.1,167.8 200.7,165.2 201.7,168.4 203,178.8 204.5,184.6 206.5,177.5 207.8,158.1 209.1,145.2 211.7,143.9 214.5,113.5 216.6,115.7 219.9,116.8 222.8,126.5 225.4,123.4 228.6,121.2 230.8,120.7 233.4,110.3 235.6,109.8 237.4,112.5 239.1,115.7 241.7,116.4 243.9,145 244.5,151.5 246.5,152.1 248,159.2 249.7,167.6 251.6,164.4 253.6,162.8 255.5,163.1 256.8,177.3 258.4,192" fill="none" stroke="#2b9be0" stroke-width="1.8" stroke-linejoin="round"/>
<polyline points="258.4,192 260.4,192.2 263.3,168.3" fill="none" stroke="#d3222f" stroke-width="1.8" stroke-linejoin="round"/>
<polyline points="263.3,168.3 265.2,181.2 266.5,187 268.4,186.3 269.7,181.2 271.7,176 274.2,175.4 276.8,176 278.8,179.9 280.1,181.8 281.3,168.3 282.6,155.3 284.6,159.9 286.5,161.8 288.4,163.1 290.4,167.6 291.7,168.3 295.6,168 296.8,176 298.4,189.5" fill="none" stroke="#2b9be0" stroke-width="1.8" stroke-linejoin="round"/>
<polyline points="298.4,189.5 299.9,205.3 301.2,220.2 303.4,220.8 305.1,218.3 306.9,214.4 308.6,225.4 309.9,231.8 311.8,233.1 314.4,233.1 316.3,229.9 318,226.7 320.2,226 323.2,222.8 325.4,223.4 327.3,233.8 328.9,242.8 331.4,243.2 333.5,243.8 336.6,246.7 338.3,227.3 340,212.1 341.8,212.2 343.4,218.3 345.4,228.6 347.3,233.1 349.9,233.8 351.8,233.1 353.1,233.8 354.7,245.4 355.7,251.8 358.6,238.9 361.2,238.5 363.5,237.4 366.8,203.3 369,202.8 371.9,205.1 374.6,206.2 377.5,227.8 380.2,217.3 382.4,217.3 386,174.2" fill="none" stroke="#d3222f" stroke-width="1.8" stroke-linejoin="round"/>
<polyline points="386,174.2 387.9,173.7 389.5,177 391.1,185.4 393.7,186 396,189.5" fill="none" stroke="#2b9be0" stroke-width="1.8" stroke-linejoin="round"/>
<polyline points="396,189.5 399.3,201.3 402.1,174.4" fill="none" stroke="#d3222f" stroke-width="1.8" stroke-linejoin="round"/>
<polyline points="402.1,174.4 404.7,171.5 407.3,171.5 408.3,177 410,201" fill="none" stroke="#2b9be0" stroke-width="1.8" stroke-linejoin="round"/>
<polyline points="410,201 412.7,201.5 416,166.5" fill="none" stroke="#d3222f" stroke-width="1.8" stroke-linejoin="round"/>
<polyline points="416,166.5 418.3,166.6 420.2,180.8 421.3,184.5 423.4,178.9 425.4,178.3 431.2,178.3 432.5,183.4 433.8,197.6 434.5,212" fill="none" stroke="#2b9be0" stroke-width="1.8" stroke-linejoin="round"/>
<polyline points="434.5,212 437.2,232.9 439.9,233.6 442.8,251.8 445,252.3 447.9,249.2 450.6,247.8 452.8,244.7 455.5,257.4 458.4,258.5 461.3,268.6 464,267.4 468,266.3 470.6,264.1 474,250.7 476.9,249.2 480.7,239.6 484,238.9 486.2,238.5 488.5,234.5 491.8,240.7 494,239.6 496.9,232.9 499.6,231.8 504.1,231.8 507.4,229.6 509.6,220.6 511.3,219.3 512.9,218.1 515.9,179.6" fill="none" stroke="#d3222f" stroke-width="1.8" stroke-linejoin="round"/>
<polyline points="515.9,179.6 517.5,187.8 518.7,198 520.8,198 522.8,194 524.4,192.7 526,192.4" fill="none" stroke="#2b9be0" stroke-width="1.8" stroke-linejoin="round"/>
<polyline points="526,192.4 527.3,187.8 528.5,171.4 530,165" fill="none" stroke="#d3222f" stroke-width="1.8" stroke-linejoin="round"/>
<polyline points="530,165 532.3,162.4 533.4,171.4 535,186.1 536.7,185.3 539.1,181.2 540.8,180.4 542.4,182.9 543.7,187.8 544.9,204.2 546,216.5" fill="none" stroke="#2b9be0" stroke-width="1.8" stroke-linejoin="round"/>
<polyline points="546,216.5 548.7,217" fill="none" stroke="#d3222f" stroke-width="1.8" stroke-linejoin="round"/>
<path d="M56,97.5H60.5V278H56" fill="none" stroke="#5b9a3c" stroke-width="1.1"/>
<line x1="56" x2="60.5" y1="117.5" y2="117.5" stroke="#5b9a3c" stroke-width="1.2"/>
<text x="40.7" y="120.3" font-size="8.6" fill="#5b9a3c" stroke="#5b9a3c" stroke-width="0.12" textLength="13" lengthAdjust="spacingAndGlyphs">1.30</text>
<line x1="56" x2="60.5" y1="157.6" y2="157.6" stroke="#5b9a3c" stroke-width="1.2"/>
<text x="40.7" y="160.4" font-size="8.6" fill="#5b9a3c" stroke="#5b9a3c" stroke-width="0.12" textLength="13" lengthAdjust="spacingAndGlyphs">1.28</text>
<line x1="56" x2="60.5" y1="197.7" y2="197.7" stroke="#5b9a3c" stroke-width="1.2"/>
<text x="40.7" y="200.5" font-size="8.6" fill="#5b9a3c" stroke="#5b9a3c" stroke-width="0.12" textLength="13" lengthAdjust="spacingAndGlyphs">1.26</text>
<line x1="56" x2="60.5" y1="237.8" y2="237.8" stroke="#5b9a3c" stroke-width="1.2"/>
<text x="40.7" y="240.6" font-size="8.6" fill="#5b9a3c" stroke="#5b9a3c" stroke-width="0.12" textLength="13" lengthAdjust="spacingAndGlyphs">1.24</text>
<line x1="56" x2="60.5" y1="277.9" y2="277.9" stroke="#5b9a3c" stroke-width="1.2"/>
<text x="40.7" y="280.7" font-size="8.6" fill="#5b9a3c" stroke="#5b9a3c" stroke-width="0.12" textLength="13" lengthAdjust="spacingAndGlyphs">1.22</text>
<line x1="551.5" x2="551.5" y1="97" y2="278.5" stroke="#999" stroke-width="1"/>
<line x1="551.5" x2="555.3" y1="278" y2="278" stroke="#999" stroke-width="1"/>
<text x="557" y="281" font-size="8.4" fill="#3a3f4a" stroke="#3a3f4a" stroke-width="0.12" textLength="12.4" lengthAdjust="spacingAndGlyphs">25%</text>
<line x1="551.5" x2="555.3" y1="259.9" y2="259.9" stroke="#999" stroke-width="1"/>
<text x="557" y="262.9" font-size="8.4" fill="#3a3f4a" stroke="#3a3f4a" stroke-width="0.12" textLength="12.4" lengthAdjust="spacingAndGlyphs">30%</text>
<line x1="551.5" x2="555.3" y1="241.9" y2="241.9" stroke="#999" stroke-width="1"/>
<text x="557" y="244.9" font-size="8.4" fill="#3a3f4a" stroke="#3a3f4a" stroke-width="0.12" textLength="12.4" lengthAdjust="spacingAndGlyphs">35%</text>
<line x1="551.5" x2="555.3" y1="223.8" y2="223.8" stroke="#999" stroke-width="1"/>
<text x="557" y="226.8" font-size="8.4" fill="#3a3f4a" stroke="#3a3f4a" stroke-width="0.12" textLength="12.4" lengthAdjust="spacingAndGlyphs">40%</text>
<line x1="551.5" x2="555.3" y1="205.8" y2="205.8" stroke="#999" stroke-width="1"/>
<text x="557" y="208.8" font-size="8.4" fill="#3a3f4a" stroke="#3a3f4a" stroke-width="0.12" textLength="12.4" lengthAdjust="spacingAndGlyphs">45%</text>
<line x1="551.5" x2="555.3" y1="187.8" y2="187.8" stroke="#999" stroke-width="1"/>
<text x="557" y="190.8" font-size="8.4" fill="#3a3f4a" stroke="#3a3f4a" stroke-width="0.12" textLength="12.4" lengthAdjust="spacingAndGlyphs">50%</text>
<line x1="551.5" x2="555.3" y1="169.7" y2="169.7" stroke="#999" stroke-width="1"/>
<text x="557" y="172.7" font-size="8.4" fill="#3a3f4a" stroke="#3a3f4a" stroke-width="0.12" textLength="12.4" lengthAdjust="spacingAndGlyphs">55%</text>
<line x1="551.5" x2="555.3" y1="151.7" y2="151.7" stroke="#999" stroke-width="1"/>
<text x="557" y="154.7" font-size="8.4" fill="#3a3f4a" stroke="#3a3f4a" stroke-width="0.12" textLength="12.4" lengthAdjust="spacingAndGlyphs">60%</text>
<line x1="551.5" x2="555.3" y1="133.6" y2="133.6" stroke="#999" stroke-width="1"/>
<text x="557" y="136.6" font-size="8.4" fill="#3a3f4a" stroke="#3a3f4a" stroke-width="0.12" textLength="12.4" lengthAdjust="spacingAndGlyphs">65%</text>
<line x1="551.5" x2="555.3" y1="115.5" y2="115.5" stroke="#999" stroke-width="1"/>
<text x="557" y="118.5" font-size="8.4" fill="#3a3f4a" stroke="#3a3f4a" stroke-width="0.12" textLength="12.4" lengthAdjust="spacingAndGlyphs">70%</text>
<line x1="551.5" x2="555.3" y1="97.5" y2="97.5" stroke="#999" stroke-width="1"/>
<text x="557" y="100.5" font-size="8.4" fill="#3a3f4a" stroke="#3a3f4a" stroke-width="0.12" textLength="12.4" lengthAdjust="spacingAndGlyphs">75%</text>
<line x1="63.1" x2="63.1" y1="304.5" y2="359" stroke="#b8b8b8" stroke-width="0.8" stroke-dasharray="1,2"/>
<line x1="62.5" x2="549.2" y1="304.5" y2="304.5" stroke="#b8b8b8" stroke-width="0.8" stroke-dasharray="1,2"/>
<line x1="62.5" x2="549.2" y1="309.5" y2="309.5" stroke="#b8b8b8" stroke-width="0.8" stroke-dasharray="1,2"/>
<line x1="62.5" x2="549.2" y1="318.5" y2="318.5" stroke="#b8b8b8" stroke-width="0.8" stroke-dasharray="1,2"/>
<line x1="62.5" x2="549.2" y1="327.5" y2="327.5" stroke="#b8b8b8" stroke-width="0.8" stroke-dasharray="1,2"/>
<line x1="62.5" x2="549.2" y1="337" y2="337" stroke="#b8b8b8" stroke-width="0.8" stroke-dasharray="1,2"/>
<line x1="62.5" x2="549.2" y1="346" y2="346" stroke="#b8b8b8" stroke-width="0.8" stroke-dasharray="1,2"/>
<line x1="62.5" x2="549.2" y1="355.5" y2="355.5" stroke="#b8b8b8" stroke-width="0.8" stroke-dasharray="1,2"/>
<line x1="62.5" x2="549.2" y1="359.5" y2="359.5" stroke="#b8b8b8" stroke-width="0.8" stroke-dasharray="1,2"/>
<line x1="98.5" x2="98.5" y1="304.5" y2="359" stroke="#b8b8b8" stroke-width="0.8" stroke-dasharray="1,2"/>
<line x1="182.5" x2="182.5" y1="304.5" y2="359" stroke="#b8b8b8" stroke-width="0.8" stroke-dasharray="1,2"/>
<line x1="263.5" x2="263.5" y1="304.5" y2="359" stroke="#b8b8b8" stroke-width="0.8" stroke-dasharray="1,2"/>
<line x1="348" x2="348" y1="304.5" y2="359" stroke="#b8b8b8" stroke-width="0.8" stroke-dasharray="1,2"/>
<line x1="429.5" x2="429.5" y1="304.5" y2="359" stroke="#b8b8b8" stroke-width="0.8" stroke-dasharray="1,2"/>
<line x1="513.5" x2="513.5" y1="304.5" y2="359" stroke="#b8b8b8" stroke-width="0.8" stroke-dasharray="1,2"/>
<polyline points="62.5,335.7 65,335.7 67.5,334.9 69.1,332.4 70.8,326.9 72,329.9 73.3,332.9 75.8,334.6 78.3,337.4 80.8,340.2 83.3,341.2 86.6,340.2 89.9,339.9 92.4,338.5 94.9,334.9 96.5,329.9 97.9,325.7 99,330.7 100.2,339.9 102.9,339.9 105.7,338.5 108.2,339 110.7,337.4 112.8,339.9 114.8,344 116.8,348.2 119.8,349.3 123.1,349 125.1,347.3 127.3,340.7 129.8,338.2 132.3,335.2 134.4,331.6 135.6,327.4 138.1,329.1 141.4,329.4 143.9,328.6 146.4,325.7 148,326.6 150.5,329.9 152.2,333.2 153.9,321.6 155,315.8 157.2,314.1 160.5,313.6 163,312.5 166,316.6 168,315.8 170.5,316.6 173.8,321.6 177.1,321.9 179.6,322.4 182.1,323.6 184.2,313 185.4,318.3 187.1,329.9 190.4,330.7 192.9,331.1 196.2,330.2 198.7,329.9 200.9,329.1 202.9,330.7 205.3,331.9 207,328.2 209.2,320.8 211.2,319.6 212.8,316.6 214.5,311.6 217,310.8 220.3,310.8 223.6,310.3 226.9,309.1 230.3,309.1 233.6,310.3 236.1,310.3 239.1,306.6 241.1,307 242.7,311.6 244.4,317.9 246.9,318.6 249.4,325.7 251.9,327.9 254.3,329.1 256,330.7 257.7,334.1 260.7,334.1 263.5,328.2 265.1,329.9 266.8,332.4 269.3,332.4 271.8,334.1 275.1,334.6 277.6,332.9 279.3,330.7 282.6,321.6 284.6,323.6 287.6,324.6 290.9,327.9 295.9,327.9 298.4,331.6 301.7,343.2 304.2,342.9 306.7,339.9 309.2,345.7 312.5,346.2 315,345.7 318.3,341.5 322.4,341.5 325.8,342.4 329.1,348.2 332.4,348.2 336.6,348.2 339.9,338.5 342,339 344.9,343.5 348.2,347.3 351.5,346.5 354,348.2 355.7,349.8 358.7,345.7 363.1,345.7 367,339.9 370.6,340.4 374.3,338.5 377.3,344.5 380.6,343.2 383.1,342.4 385.2,334.9 387.2,334.1 392.2,334.4 395.5,334.6 398.9,336.9 401.3,329.1 403.8,329.6 406.8,329.9 408.8,334.9 412.1,335.7 413.8,329.9 415.8,326.2 418,326.2 420.4,329.9 423.8,332.1 427.1,331.6 430.4,331.2 432.4,332.4 435.4,339.9 437.4,346.8 439.5,344 442.9,350.7 447,349 450.3,347.7 453.7,348.2 456.2,351.8 458.6,352.3 462,354.8 467,354.5 470.3,351.5 474.4,349 477.7,348.2 481.1,346.5 486.1,346.2 488.5,343.5 491.9,344.5 495.2,345.2 499.3,345.7 503.5,346.2 507.6,346.2 510.1,342.9 512.6,342.4 515.1,336.9 516.8,339.9 518.4,343.5 521.8,342.9 525.9,341.9 528.4,334.9 531.7,330.7 534.2,338.2 536.7,339 540,337.4 543.4,336.2 545,339.9 545.9,343.5 548.3,344.5" fill="none" stroke="#2b9be0" stroke-width="1.2" stroke-linejoin="round"/>
<polyline points="62.5,334.1 65.8,334.1 68.3,332.4 70,330.7 73.3,328.6 76.6,328.2 79.1,327.9 81.6,326.9 84.9,326.6 87.4,325.7 89.9,321.3 92.4,322.9 94.9,326.6 97.4,331.6 99,334.1 100.7,331.9 103.2,331.6 105.7,331.2 107.3,325.7 109,317.4 111.5,321.6 114,318.3 116.8,309.6 119,311.6 121.5,312 124,311.3 126.4,315 129.8,320.8 132.3,321.3 134.4,326.6 136.1,330.7 138.4,332.9 141.4,333.2 143.9,332.9 146.4,332.9 150.5,333.2 152.2,330.7 153.9,338.2 155.5,343.2 158,347.3 161.3,347.3 163.8,345.7 166.3,339.5 168.3,338.5 171,340.2 173.3,339.5 176.3,342.4 179.6,342.9 182.6,342.4 184.6,346.5 187.1,334.6 190.4,334.1 192.9,335.2 195.9,339.9 198.7,340.2 201.2,339.9 202.9,334.9 204.8,332.1 206.5,334.6 208.7,342.4 211.2,344 214.5,352.8 217,351.5 220.3,350.7 222.8,347.3 225.3,348.2 228.6,348.5 231.1,349 234.7,354.5 237.7,351.5 241.1,349.5 244,339.9 246.9,339 249.4,337.4 251,339.9 254,341.2 256,337.4 257.7,331.2 260.2,331.2 263.5,338.2 266,332.4 269,333.2 271.8,339.9 275.9,340.2 279.3,334.1 282.6,339.9 285.9,339 290.9,338.2 295.9,337.9 298.9,327.4 302.5,325.7 305.8,324.9 309.2,322.4 312.5,321.3 315.8,320.8 319.1,319.1 322.4,321.3 325.8,321.3 329.1,317.4 333.2,316.6 337.4,314.6 339.9,324.9 342.4,324.1 344.9,319.9 347.4,323.3 352.3,323.3 354,319.9 355.7,314.6 359,316.6 364,317.9 367,330.7 370.6,330.7 373.9,328.2 377.3,322.9 380.2,328.2 383.1,328.6 385.2,341.2 387.2,341.2 390.5,335.7 394.7,335.2 398.9,329.9 401.3,334.9 403.8,336.9 407.5,337.9 408.8,329.9 411.3,328.6 413,329.6 415.1,337.9 418,338.2 420.4,332.4 423.8,337.4 427.1,337.4 430.4,335.7 432.1,334.9 434.6,325.7 437.1,322.4 439.5,318.3 442,315.8 446.2,314.6 449.5,313.6 452,315 454.5,314.1 457.8,313 461.1,310.8 466.1,311.6 469.4,305.8 471.9,306.3 475.3,312.5 477.7,313.3 481.1,316.9 486.1,316.9 489.4,315 491.9,313.6 494.4,316.6 497.2,321.3 500.2,322.4 505.2,322.4 508.5,324.1 511,325.7 513.5,326.2 516,339.9 518.4,339 521.8,339.9 525.1,340.2 527.6,341.5 530.1,344 532.6,342.9 535.1,338.5 538.4,339.9 540.9,340.7 543.4,337.9 545.9,329.6 548.3,329.6" fill="none" stroke="#d3222f" stroke-width="1.2" stroke-linejoin="round"/>
<line x1="551.5" x2="551.5" y1="304.5" y2="359" stroke="#999" stroke-width="1"/>
<line x1="551.5" x2="555" y1="309" y2="309" stroke="#999" stroke-width="1"/>
<text x="556.5" y="311.5" font-size="7.6" fill="#3a3f4a" stroke="#3a3f4a" stroke-width="0.12" transform="translate(556.5 0) scale(0.86 1) translate(-556.5 0)">1600</text>
<line x1="551.5" x2="555" y1="318.3" y2="318.3" stroke="#999" stroke-width="1"/>
<text x="556.5" y="320.8" font-size="7.6" fill="#3a3f4a" stroke="#3a3f4a" stroke-width="0.12" transform="translate(556.5 0) scale(0.86 1) translate(-556.5 0)">1400</text>
<line x1="551.5" x2="555" y1="327.6" y2="327.6" stroke="#999" stroke-width="1"/>
<text x="556.5" y="330.1" font-size="7.6" fill="#3a3f4a" stroke="#3a3f4a" stroke-width="0.12" transform="translate(556.5 0) scale(0.86 1) translate(-556.5 0)">1200</text>
<line x1="551.5" x2="555" y1="336.9" y2="336.9" stroke="#999" stroke-width="1"/>
<text x="556.5" y="339.4" font-size="7.6" fill="#3a3f4a" stroke="#3a3f4a" stroke-width="0.12" transform="translate(556.5 0) scale(0.86 1) translate(-556.5 0)">1000</text>
<line x1="551.5" x2="555" y1="346.1" y2="346.1" stroke="#999" stroke-width="1"/>
<text x="556.5" y="348.6" font-size="7.6" fill="#3a3f4a" stroke="#3a3f4a" stroke-width="0.12" transform="translate(556.5 0) scale(0.86 1) translate(-556.5 0)">800</text>
<line x1="551.5" x2="555" y1="355.3" y2="355.3" stroke="#999" stroke-width="1"/>
<text x="556.5" y="357.8" font-size="7.6" fill="#3a3f4a" stroke="#3a3f4a" stroke-width="0.12" transform="translate(556.5 0) scale(0.86 1) translate(-556.5 0)">600</text>
<line x1="98.5" x2="98.5" y1="359" y2="364" stroke="#7a7a7a" stroke-width="1"/>
<text font-size="8.4" fill="#333944" stroke="#333944" stroke-width="0.15" text-anchor="end" transform="translate(100.9 366.6) rotate(-90) scale(0.81 1)">2024-Mar-01</text>
<line x1="182.5" x2="182.5" y1="359" y2="364" stroke="#7a7a7a" stroke-width="1"/>
<text font-size="8.4" fill="#333944" stroke="#333944" stroke-width="0.15" text-anchor="end" transform="translate(184.9 366.6) rotate(-90) scale(0.81 1)">2024-Apr-01</text>
<line x1="263.5" x2="263.5" y1="359" y2="364" stroke="#7a7a7a" stroke-width="1"/>
<text font-size="8.4" fill="#333944" stroke="#333944" stroke-width="0.15" text-anchor="end" transform="translate(265.9 366.6) rotate(-90) scale(0.81 1)">2024-May-01</text>
<line x1="348" x2="348" y1="359" y2="364" stroke="#7a7a7a" stroke-width="1"/>
<text font-size="8.4" fill="#333944" stroke="#333944" stroke-width="0.15" text-anchor="end" transform="translate(350.4 366.6) rotate(-90) scale(0.81 1)">2024-Jun-01</text>
<line x1="429.5" x2="429.5" y1="359" y2="364" stroke="#7a7a7a" stroke-width="1"/>
<text font-size="8.4" fill="#333944" stroke="#333944" stroke-width="0.15" text-anchor="end" transform="translate(431.9 366.6) rotate(-90) scale(0.81 1)">2024-Jul-01</text>
<line x1="513.5" x2="513.5" y1="359" y2="364" stroke="#7a7a7a" stroke-width="1"/>
<text font-size="8.4" fill="#333944" stroke="#333944" stroke-width="0.15" text-anchor="end" transform="translate(515.9 366.6) rotate(-90) scale(0.81 1)">2024-Aug-01</text>
<text x="68.9" y="297.5" font-size="8.6" font-weight="bold" fill="#111" textLength="71.2" lengthAdjust="spacingAndGlyphs">Percentage of Traders</text>
<rect x="159.4" y="291.6" width="6" height="6" fill="#f3f9fe" stroke="#2b9be0" stroke-width="1.2"/>
<text x="168.6" y="297.5" font-size="8.1" fill="#333" textLength="25.6" lengthAdjust="spacingAndGlyphs">net long</text>
<rect x="233.8" y="291.6" width="6" height="6" fill="#fbe7ea" stroke="#d3222f" stroke-width="1.2"/>
<text x="243.7" y="297.5" font-size="8.1" fill="#333" textLength="27.7" lengthAdjust="spacingAndGlyphs">net short</text>
<text x="308.6" y="297.5" font-size="8.6" font-weight="bold" fill="#111" textLength="59.3" lengthAdjust="spacingAndGlyphs">Number of Traders</text>
<line x1="386" x2="392" y1="294.8" y2="294.8" stroke="#2b9be0" stroke-width="1.3"/>
<text x="395.8" y="297.5" font-size="8.1" fill="#333" textLength="25.1" lengthAdjust="spacingAndGlyphs">net long</text>
<line x1="460.2" x2="466.7" y1="294.8" y2="294.8" stroke="#d3222f" stroke-width="1.3"/>
<text x="470" y="297.5" font-size="8.1" fill="#333" textLength="28.1" lengthAdjust="spacingAndGlyphs">net short</text>
<g fill="none" stroke="#414b5a" stroke-width="1.9">
<path d="M510.5,62.8V71.1H513.3A3.9,4.15 0 0 0 513.3,62.8Z"/>
<path d="M521.4,71.9V66.2A3.15,3.3 0 0 1 527.7,66.2V71.9M521.4,68.4H527.7"/>
<path d="M538,62.5V71.1H542.9"/>
<path d="M544.6,62.5V65.8A3.2,3.2 0 0 0 551,65.8V62.5M547.8,68.8V71.9"/>
</g>
<path d="M532.25,60V73.6" stroke="#414b5a" stroke-width="0.8"/><path d="M531.6,62.5H532.9V71H531.6Z" fill="#414b5a"/>
<path d="M556.3,72.3V63.4H561.2M556.3,67.4H560.4" fill="none" stroke="#ff7a0a" stroke-width="2.5"/>
<path d="M565,62.6L574.8,71.8M574.8,62.6L565,71.8" fill="none" stroke="#ff7a0a" stroke-width="2.4"/>
<text x="531" y="80.4" font-size="6.2" fill="#555" textLength="32.8" lengthAdjust="spacingAndGlyphs">provided by</text>
<text x="567" y="81.8" font-size="8.8" font-weight="bold" fill="#d31f3a" textLength="9" lengthAdjust="spacingAndGlyphs">IG</text>
</svg></body></html>
